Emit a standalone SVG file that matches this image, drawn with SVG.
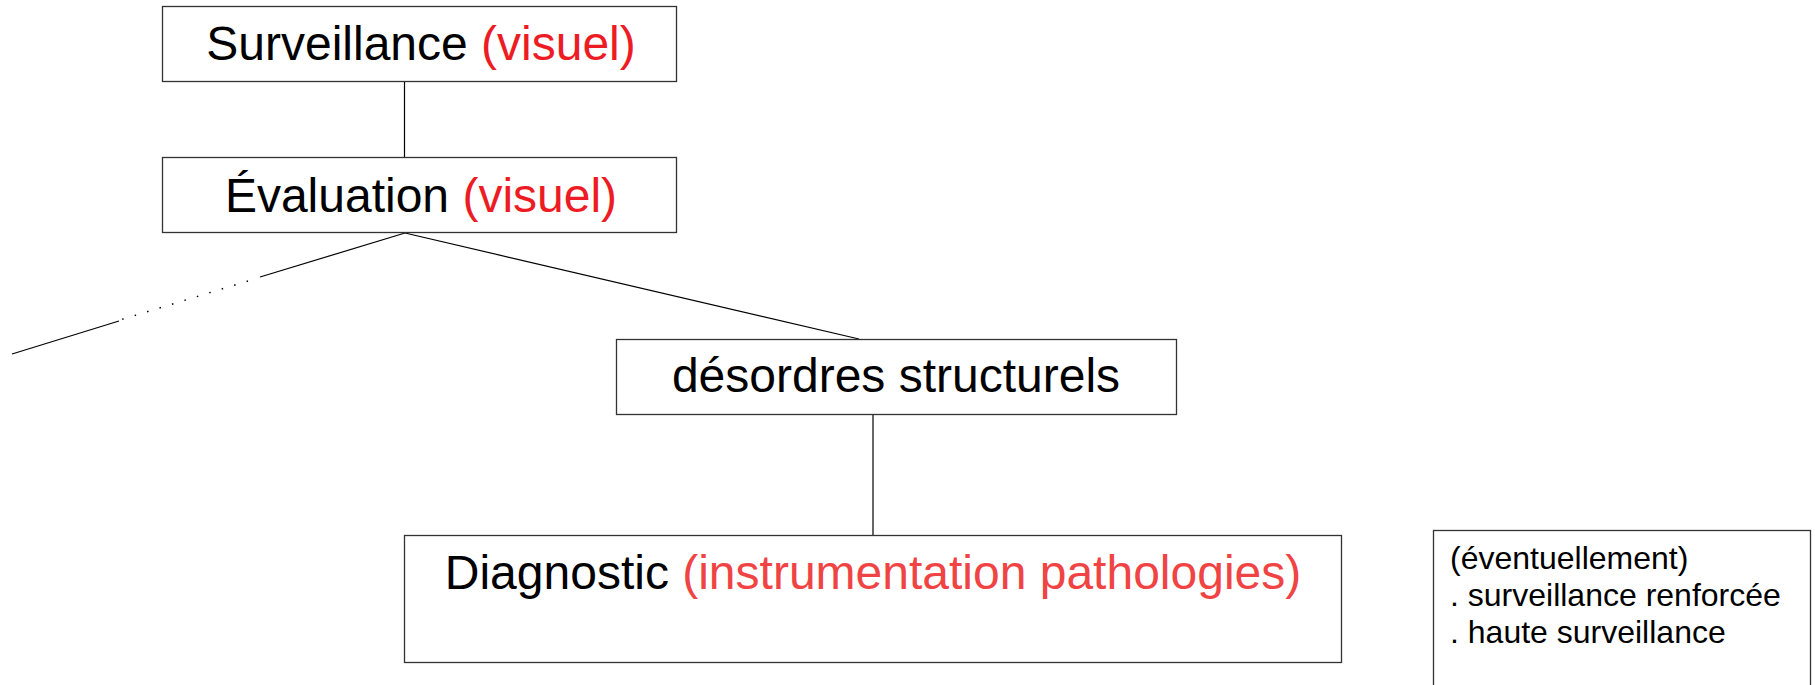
<svg xmlns="http://www.w3.org/2000/svg" width="1815" height="685" viewBox="0 0 1815 685">
<style>
.box{fill:#fff;stroke:#333;stroke-width:1.3}
.t{font-family:"Liberation Sans",Arial,sans-serif;font-size:48px;fill:#000;text-anchor:middle}
.r1{fill:#ed1c24}
.r2{fill:#f04444}
.n{font-family:"Liberation Sans",Arial,sans-serif;font-size:32px;fill:#000}
.c{stroke:#000;stroke-width:1.2;fill:none}
.d{stroke:#000;stroke-width:1.5;fill:none;stroke-dasharray:1.5 11.5}
</style>
<rect width="1815" height="685" fill="#fff"/>
<g id="connectors">
<line class="c" x1="404.5" y1="81" x2="404.5" y2="157"/>
<line class="c" x1="405" y1="233" x2="859" y2="339"/>
<line class="c" x1="405" y1="233" x2="260" y2="277"/>
<line class="d" x1="248" y1="281" x2="120" y2="320"/>
<line class="c" x1="119" y1="321" x2="12" y2="354"/>
<line class="c" x1="873" y1="414" x2="873" y2="539"/>
</g>
<g id="surveillance">
<rect class="box" x="162.5" y="6.5" width="514" height="75"/>
<text class="t" x="421" y="60">Surveillance <tspan class="r1">(visuel)</tspan></text>
</g>
<g id="evaluation">
<rect class="box" x="162.5" y="157.5" width="514" height="75"/>
<text class="t" x="421" y="212">Évaluation <tspan class="r1">(visuel)</tspan></text>
</g>
<g id="desordres">
<rect class="box" x="616.5" y="339.5" width="560" height="75"/>
<text class="t" x="896" y="392">désordres structurels</text>
</g>
<g id="diagnostic">
<rect class="box" x="404.5" y="535.5" width="937" height="127"/>
<text class="t" x="873" y="589">Diagnostic <tspan class="r2">(instrumentation pathologies)</tspan></text>
</g>
<g id="note">
<rect class="box" x="1433.5" y="530.5" width="377" height="170"/>
<text class="n" x="1450" y="569">(éventuellement)</text>
<text class="n" x="1450" y="606">. surveillance renforcée</text>
<text class="n" x="1450" y="643">. haute surveillance</text>
</g>
</svg>
